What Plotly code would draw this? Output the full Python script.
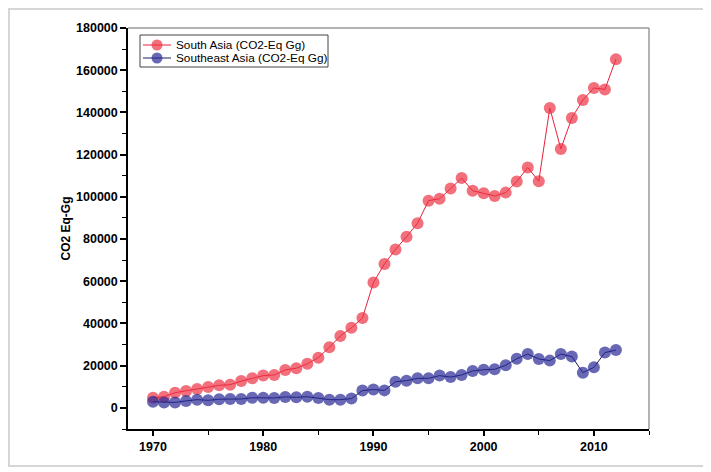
import plotly.graph_objects as go

years = list(range(1970, 2013))
south_asia = [4800, 5300, 7200, 8000, 9000, 9900, 10700, 11000, 12700, 14000,
              15300, 15600, 18000, 18800, 20900, 23800, 28700, 34100, 38000, 42600,
              59400, 68200, 75100, 81100, 87500, 98200, 99100, 103900, 108900, 102900,
              101700, 100400, 102000, 107300, 113900, 107400, 142100, 122700, 137400, 145900,
              151600, 150900, 165200]
southeast_asia = [2900, 2600, 2600, 3300, 3900, 3600, 4100, 4200, 4200, 4800,
                  4800, 4700, 5200, 5000, 5300, 4700, 3900, 3900, 4400, 8200,
                  8700, 8300, 12400, 12900, 14000, 14000, 15300, 14600, 15600, 17500,
                  18100, 18300, 20200, 23300, 25500, 23200, 22400, 25500, 24300, 16700,
                  19200, 26200, 27400]
series_names = ["South Asia (CO2-Eq Gg)", "Southeast Asia (CO2-Eq Gg)"]
x_ticks = [1970, 1980, 1990, 2000, 2010]
y_ticks = list(range(0, 180001, 20000))

# page is offset by the browser's default 8px body margin
OX, OY = 8, 8
W, H = 711 - OX, 472 - OY
PX0, PX1, PY0, PY1 = 128, 649, 28, 429  # plot area in page pixels
L, R, T, B = PX0 - OX, W - (PX1 - OX), PY0 - OY, H - (PY1 - OY)
pw, ph = PX1 - PX0, PY1 - PY0


def px(x):
    return (x - PX0) / pw


def py(y):
    return (PY1 - y) / ph


line_colors = ["#e8203a", "#1c1c5c"]
marker_colors = ["rgba(236,50,68,0.7)", "rgba(40,40,150,0.7)"]
font_family = "Liberation Sans, Arial, sans-serif"

fig = go.Figure()
for vals, name, lc, mc in zip([south_asia, southeast_asia], series_names, line_colors, marker_colors):
    fig.add_trace(go.Scatter(
        x=years, y=vals, mode="lines+markers", name=name, showlegend=False,
        line=dict(color=lc, width=1),
        marker=dict(size=12, color=mc, line=dict(width=0)),
    ))

shapes = [
    dict(type="line", xref="paper", yref="paper", x0=0, x1=1, y0=1, y1=1,
         line=dict(color="#999999", width=1.5)),
    dict(type="line", xref="paper", yref="paper", x0=1, x1=1, y0=0, y1=1,
         line=dict(color="#999999", width=1.5)),
    dict(type="rect", xref="paper", yref="paper",
         x0=px(9), x1=px(706), y0=py(466), y1=py(9),
         line=dict(color="#d6d6d6", width=2), layer="below"),
    # legend box
    dict(type="rect", xref="paper", yref="paper",
         x0=px(140), x1=px(328), y0=py(67), y1=py(35),
         line=dict(color="#444444", width=1), fillcolor="white", layer="above"),
]
annotations = []
for i, (name, lc, mc) in enumerate(zip(series_names, line_colors, marker_colors)):
    yy = 45 + 13 * i
    shapes.append(dict(type="line", xref="paper", yref="paper",
                       x0=px(143), x1=px(171), y0=py(yy), y1=py(yy),
                       line=dict(color=lc, width=1)))
    shapes.append(dict(type="circle", xref="paper", yref="paper",
                       xsizemode="pixel", ysizemode="pixel",
                       xanchor=px(157), yanchor=py(yy), x0=-5.5, x1=5.5, y0=-5.5, y1=5.5,
                       fillcolor=mc, line=dict(width=0)))
    annotations.append(dict(xref="paper", yref="paper", x=px(174), y=py(yy),
                            xanchor="left", yanchor="middle", showarrow=False,
                            text=name, font=dict(size=11.8, family=font_family, color="black")))

fig.update_layout(
    width=W, height=H,
    margin=dict(l=L, r=R, t=T, b=B, pad=0),
    paper_bgcolor="white", plot_bgcolor="white",
    font=dict(family=font_family, color="black", size=12),
    showlegend=False,
    xaxis=dict(range=[1967.73, 2015], tickvals=x_ticks, showgrid=False, zeroline=False,
               showline=True, linecolor="black", linewidth=1.5,
               ticks="outside", ticklen=5, tickwidth=1.5, tickcolor="black",
               tickfont=dict(size=12.5, family=font_family, weight="bold"),
               minor=dict(dtick=5, tick0=1970, ticks="outside", ticklen=4, tickwidth=1.2, tickcolor="black")),
    yaxis=dict(range=[-10000, 180000], tickvals=y_ticks, tickformat="d", showgrid=False, zeroline=False,
               showline=True, linecolor="black", linewidth=1.5,
               ticks="outside", ticklen=6, tickwidth=1.5, tickcolor="black",
               tickfont=dict(size=12.5, family=font_family, weight="bold"),
               minor=dict(dtick=10000, tick0=0, ticks="outside", ticklen=4, tickwidth=1.2, tickcolor="black"),
               title=dict(text="CO2 Eq-Gg", font=dict(size=12, family=font_family, weight="bold"), standoff=3)),
    shapes=shapes,
    annotations=annotations,
)

fig.write_html("out.html")
